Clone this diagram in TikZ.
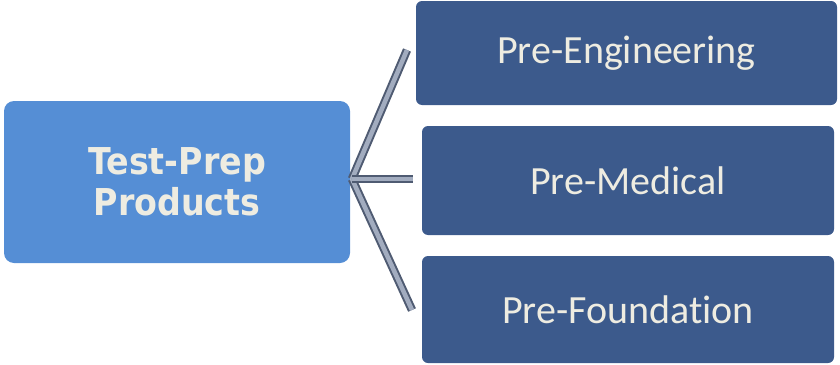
\documentclass[tikz,border=0pt]{standalone}
\usepackage{fontspec}
\newfontfamily\rootfont[FakeStretch=0.9]{DejaVu Sans}
\newfontfamily\leaffont[Ligatures=NoCommon]{Carlito}
\definecolor{rootblue}{HTML}{558ED5}
\definecolor{leafblue}{HTML}{3C5A8C}
\definecolor{cream}{HTML}{EEECE1}
\definecolor{barDark}{HTML}{4F5B72}
\definecolor{barLight}{HTML}{A2ACBF}
\begin{document}
\begin{tikzpicture}[x=1pt,y=-1pt,
  rootbox/.style={fill=rootblue, draw=none, rounded corners=10pt, inner sep=0pt,
    align=center, text=cream, font={\rootfont\bfseries\fontsize{37}{41}\selectfont}},
  leafbox/.style={fill=leafblue, draw=none, rounded corners=6pt, inner sep=0pt,
    text=cream, font={\leaffont\fontsize{40}{44}\selectfont}},
  connector/.style={draw=barDark, line width=2pt, double=barLight, double distance=4.5pt, line cap=butt}]
\useasboundingbox (0,0) rectangle (840,364);
\node[rootbox, minimum width=346pt, minimum height=162pt] (root) at (177,182) {Test-Prep\\Products};
\node[leafbox, minimum width=421pt, minimum height=104pt] (eng) at (626.5,53) {Pre-Engineering};
\node[leafbox, minimum width=412pt, minimum height=109pt] (med) at (628,180.5) {Pre-Medical};
\node[leafbox, minimum width=412pt, minimum height=107pt] (fou) at (628,309.5) {Pre-Foundation};
\coordinate (hub) at (352,179);
\coordinate (eEnd) at (407,50);
\coordinate (mEnd) at (413,179);
\coordinate (fEnd) at (412,310);
\draw[connector] (hub) -- (eEnd);
\draw[connector] (hub) -- (fEnd);
\draw[connector] (hub) -- (mEnd);
\end{tikzpicture}
\end{document}
